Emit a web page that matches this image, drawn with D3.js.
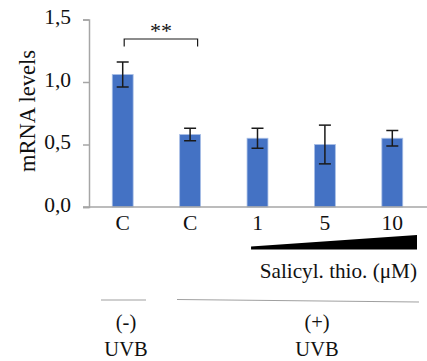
<!DOCTYPE html>
<html>
<head>
<meta charset="utf-8">
<script src="https://cdn.jsdelivr.net/npm/d3@7"></script>
<style>
  html, body { margin: 0; padding: 0; background: #fff; }
  svg { display: block; }
  text { font-family: "Liberation Serif", "Times New Roman", serif; fill: #111; }
</style>
</head>
<body>
<div id="chart"></div>
<script>
// Relative mRNA levels per condition
const categories = ["C", "C", "1", "5", "10"];
const meanValues = [1.06, 0.58, 0.55, 0.50, 0.55];
const errorValues = [0.10, 0.05, 0.08, 0.155, 0.062];
const yTicks = [0, 0.5, 1.0, 1.5];
const yTickLabels = ["0,0", "0,5", "1,0", "1,5"];

const width = 427, height = 361;
const svg = d3.select("#chart").append("svg")
  .attr("width", width).attr("height", height);

const x = d3.scaleBand()
  .domain(d3.range(categories.length))
  .range([89, 426])
  .paddingInner(0.69)
  .paddingOuter(0.345);

const y = d3.scaleLinear().domain([0, 1.5]).range([207, 19.5]);

const axisColor = "#a6a6a6";
const tickFont = 21.5;

// y axis
const yAxis = svg.append("g").attr("transform", `translate(${x.range()[0]},0)`)
  .call(d3.axisLeft(y).tickValues(yTicks).tickSize(6)
    .tickFormat((d, i) => yTickLabels[i]));
yAxis.select(".domain").attr("stroke", axisColor).attr("stroke-width", 1.5);
yAxis.selectAll(".tick line").attr("stroke", axisColor).attr("stroke-width", 1.5);
yAxis.selectAll(".tick text")
  .attr("x", -18).attr("dy", "0.2em")
  .style("font-family", "Liberation Serif, serif")
  .style("font-size", tickFont + "px").attr("fill", "#111");

// bars
svg.append("g").selectAll("rect")
  .data(meanValues)
  .join("rect")
  .attr("x", (d, i) => x(i))
  .attr("y", d => y(d))
  .attr("width", x.bandwidth())
  .attr("height", d => y(0) - y(d))
  .attr("fill", "#4472c4")
  .attr("stroke", "#a9bfe6")
  .attr("stroke-width", 0.8);

// x axis
const xAxis = svg.append("g").attr("transform", `translate(0,${y(0)})`)
  .call(d3.axisBottom(x).tickSize(0).tickFormat(i => categories[i]));
xAxis.select(".domain").attr("stroke", axisColor).attr("stroke-width", 1.5)
  .attr("d", `M${x.range()[0] - 6},0H${width}`);
xAxis.selectAll(".tick text")
  .attr("y", 22.5).attr("dy", 0)
  .style("font-family", "Liberation Serif, serif")
  .style("font-size", "21.5px").attr("fill", "#111");

// error bars
const capHalf = 6;
const eb = svg.append("g").attr("stroke", "#1a1a1a").attr("stroke-width", 1.5);
meanValues.forEach((m, i) => {
  const cx = x(i) + x.bandwidth() / 2;
  const top = y(m + errorValues[i]), bot = y(m - errorValues[i]);
  eb.append("line").attr("x1", cx).attr("x2", cx).attr("y1", top).attr("y2", bot);
  eb.append("line").attr("x1", cx - capHalf).attr("x2", cx + capHalf).attr("y1", top).attr("y2", top);
  eb.append("line").attr("x1", cx - capHalf).attr("x2", cx + capHalf).attr("y1", bot).attr("y2", bot);
});

// y axis title
svg.append("text")
  .attr("transform", "translate(35,111) rotate(-90)")
  .attr("text-anchor", "middle")
  .style("font-size", "22.5px")
  .text("mRNA levels");

// significance bracket between the two controls
const bx1 = x(0) + x.bandwidth() / 2 + 1.5, bx2 = x(1) + x.bandwidth() / 2 + 7.5;
svg.append("path")
  .attr("d", `M${bx1},46.5V39H${bx2}V46.5`)
  .attr("fill", "none").attr("stroke", "#1a1a1a").attr("stroke-width", 1.2);
svg.append("text")
  .attr("x", (bx1 + bx2) / 2).attr("y", 38)
  .attr("text-anchor", "middle")
  .style("font-size", "22px")
  .text("**");

// concentration wedge
const wx1 = x(2) + 4, wx2 = width - 10;
svg.append("path")
  .attr("d", `M${wx1},249.5L${wx2},249.5L${wx2},235L${wx1},246.5Z`)
  .attr("fill", "#000");
svg.append("text")
  .attr("x", wx2).attr("y", 277.5)
  .attr("text-anchor", "end")
  .style("font-size", "21.2px")
  .text("Salicyl. thio. (\u03bcM)");

// UVB group lines
svg.append("line").attr("x1", 101).attr("x2", 146).attr("y1", 300).attr("y2", 300)
  .attr("stroke", "#a0a0a0").attr("stroke-width", 1.2);
svg.append("line").attr("x1", 177).attr("x2", 419).attr("y1", 299.5).attr("y2", 302)
  .attr("stroke", "#a0a0a0").attr("stroke-width", 1.2);

// UVB group labels
const groups = [
  { sign: "(-)", cx: 126 },
  { sign: "(+)", cx: 317 }
];
groups.forEach(g => {
  svg.append("text").attr("x", g.cx).attr("y", 329)
    .attr("text-anchor", "middle").style("font-size", "20.5px").text(g.sign);
  svg.append("text").attr("x", g.cx).attr("y", 356)
    .attr("text-anchor", "middle").style("font-size", "20.5px").text("UVB");
});
</script>
</body>
</html>
